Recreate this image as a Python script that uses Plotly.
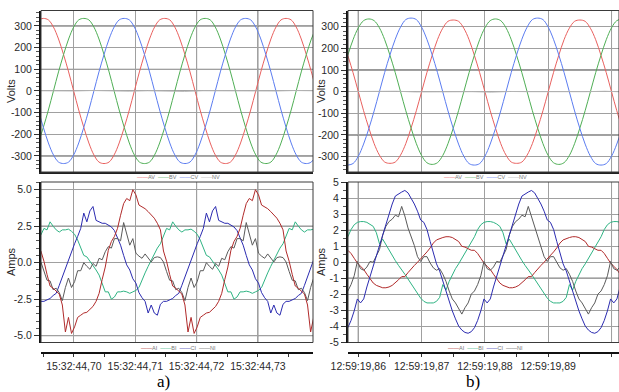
import plotly.graph_objects as go

# ---------------- data ----------------
# time axis (ms after the first labelled tick)
TICKPOS_A = [0, 10, 20, 30]
TICKS_A = ["15:32:44,70", "15:32:44,71", "15:32:44,72", "15:32:44,73"]
TICKPOS_B = [0, 10, 20, 30, 40]
TICKS_B = ["12:59:19,86", "12:59:19,87", "12:59:19,88", "12:59:19,89", ""]

VOLT_TICKS = [-300, -200, -100, 0, 100, 200, 300]
VOLT_LABELS = ["-300", "-200", "-100", "0", "100", "200", "300"]
AMP_A_TICKS = [-5, -2.5, 0, 2.5, 5]
AMP_A_LABELS = ["-5.0", "-2.5", "0.0", "2.5", "5.0"]
AMP_B_TICKS = [-5, -4, -3, -2, -1, 0, 1, 2, 3, 4, 5]
AMP_B_LABELS = ["-5", "-4", "-3", "-2", "-1", "0", "1", "2", "3", "4", "5"]

# sample start / spacing (ms)
VA_T0, VA_DT = -5.825, 0.825
VB_T0, VB_DT = -1.667, 0.8333
VN_T0, VN_DT = -6.0, 3.0
IA_T0, IA_DT = -5.4, 0.5
IB_T0, IB_DT = -1.65, 0.5

# voltages a)
AV_A = [328, 335, 328, 295, 240, 168, 88, 0, -88, -168, -240, -295, -328, -335, -328, -295, -240, -168, -88, 0, 88, 168, 240, 295,
        328, 335, 328, 295, 240, 168, 88, 0, -88, -168, -240, -295, -328, -335, -328, -295, -240, -168, -88, 0, 88, 168, 240, 295,
        328, 335, 328, 295, 240, 168, 88, 0]
BV_A = [-240, -168, -88, 0, 88, 168, 240, 295, 328, 335, 328, 295, 240, 168, 88, 0, -88, -168, -240, -295, -328, -335, -328, -295,
        -240, -168, -88, 0, 88, 168, 240, 295, 328, 335, 328, 295, 240, 168, 88, 0, -88, -168, -240, -295, -328, -335, -328, -295,
        -240, -168, -88, 0, 88, 168, 240, 295]
CV_A = [-88, -168, -240, -295, -328, -335, -328, -295, -240, -168, -88, 0, 88, 168, 240, 295, 328, 335, 328, 295, 240, 168, 88, 0,
        -88, -168, -240, -295, -328, -335, -328, -295, -240, -168, -88, 0, 88, 168, 240, 295, 328, 335, 328, 295, 240, 168, 88, 0,
        -88, -168, -240, -295, -328, -335, -328, -295]
NV_A = [1, -1, 0, 2, 0, -1, 1, 0, -2, 1, 0, 1, -1, 0, 2, -1, 0]

# voltages b)
AV_B = [168, 88, 0, -88, -168, -240, -293, -325, -331, -325, -293, -240, -168, -88, 0, 88, 168, 240, 293, 325, 331, 325, 293, 240,
        168, 88, 0, -88, -168, -240, -293, -325, -331, -325, -293, -240, -168, -88, 0, 88, 168, 240, 293, 325, 331, 325, 293, 240,
        168, 88, 0, -88, -168]
BV_B = [168, 240, 295, 328, 336, 328, 295, 240, 168, 88, 0, -88, -168, -240, -295, -328, -336, -328, -295, -240, -168, -88, 0, 88,
        168, 240, 295, 328, 336, 328, 295, 240, 168, 88, 0, -88, -168, -240, -295, -328, -336, -328, -295, -240, -168, -88, 0, 88,
        168, 240, 295, 328, 336]
CV_B = [-339, -332, -298, -242, -170, -89, 0, 89, 170, 242, 298, 333, 340, 333, 298, 242, 170, 89, 0, -89, -170, -242, -298, -332,
        -339, -332, -298, -242, -170, -89, 0, 89, 170, 242, 298, 333, 340, 333, 298, 242, 170, 89, 0, -89, -170, -242, -298, -332,
        -339, -332, -298, -242, -170]
NV_B = [0, 1, -1, 0, 2, -1, 0, 1, 0, -2, 1, 0, -1, 1, 0, 2, -1]

# currents a)
AI_A = [0.8, 0.1, -0.8, -1.6, -1.75, -1.95, -2.15, -2.9, -4.75, -3.75, -4.85, -4.4, -3.75, -3.6, -3.45, -3.4, -3.2, -3.0, -2.65, -2.1,
        -1.15, -0.3, 0.85, 1.45, 1.8, 2.35, 3.25, 4.05, 4.4, 4.25, 5.0, 4.65, 3.95, 3.85, 3.7, 3.5, 3.25, 3.05, 2.7, 2.25,
        0.8, 0.1, -0.8, -1.6, -1.75, -1.95, -2.15, -2.9, -4.75, -3.75, -4.85, -4.4, -3.75, -3.6, -3.45, -3.4, -3.2, -3.0, -2.65, -2.1,
        -1.15, -0.3, 0.85, 1.45, 1.8, 2.35, 3.25, 4.05, 4.4, 4.25, 5.0, 4.65, 3.95, 3.85, 3.7, 3.5, 3.25, 3.05, 2.7, 2.25,
        0.8, 0.1, -0.8, -1.6, -1.75, -1.95, -2.15, -2.9, -4.75, -3.75]
BI_A = [1.9, 2.35, 2.25, 2.8, 2.5, 2.25, 2.1, 2.25, 2.25, 2.3, 2.15, 1.95, 1.55, 1.0, 0.5, 0.4, 0.1, -0.15, -0.5, -0.85,
        -1.4, -2.0, -2.0, -2.5, -2.35, -2.0, -2.0, -1.95, -2.0, -2.1, -2.0, -1.9, -1.7, -1.15, -0.7, -0.25, 0.2, 0.6, 1.0, 1.3,
        1.9, 2.35, 2.25, 2.8, 2.5, 2.25, 2.1, 2.25, 2.25, 2.3, 2.15, 1.95, 1.55, 1.0, 0.5, 0.4, 0.1, -0.15, -0.5, -0.85,
        -1.4, -2.0, -2.0, -2.5, -2.35, -2.0, -2.0, -1.95, -2.0, -2.1, -2.0, -1.9, -1.7, -1.15, -0.7, -0.25, 0.2, 0.6, 1.0, 1.3,
        1.9, 2.35, 2.25, 2.8, 2.5, 2.25, 2.1, 2.25, 2.25, 2.3]
CI_A = [-2.65, -2.65, -2.55, -2.45, -2.25, -2.1, -1.55, -0.95, -0.45, 0.2, 0.8, 1.3, 1.8, 2.35, 3.4, 2.8, 3.55, 3.85, 2.9, 2.8,
        2.7, 2.7, 2.6, 2.45, 2.2, 1.75, 1.2, 0.5, -0.15, -0.5, -1.1, -1.4, -2.05, -2.4, -2.65, -3.45, -2.9, -3.45, -3.6, -2.85,
        -2.65, -2.65, -2.55, -2.45, -2.25, -2.1, -1.55, -0.95, -0.45, 0.2, 0.8, 1.3, 1.8, 2.35, 3.4, 2.8, 3.55, 3.85, 2.9, 2.8,
        2.7, 2.7, 2.6, 2.45, 2.2, 1.75, 1.2, 0.5, -0.15, -0.5, -1.1, -1.4, -2.05, -2.4, -2.65, -3.45, -2.9, -3.45, -3.6, -2.85,
        -2.65, -2.65, -2.55, -2.45, -2.25, -2.1, -1.55, -0.95, -0.45, 0.2]
NI_A = [0.05, -0.6, -1.2, -1.25, -1.85, -1.75, -2.05, -2.6, -1.7, -1.05, -1.7, -1.3, -0.55, -0.55, 0.0, -0.25, -0.45, -0.05, -0.25, 0.3,
        0.2, 0.75, 1.1, 1.0, 1.65, 1.65, 1.5, 2.75, 2.0, 1.2, 1.65, 0.65, 0.45, 0.3, 0.6, 0.3, 0.05, 0.35, 0.4, 0.35,
        0.05, -0.6, -1.2, -1.25, -1.85, -1.75, -2.05, -2.6, -1.7, -1.05, -1.7, -1.3, -0.55, -0.55, 0.0, -0.25, -0.45, -0.05, -0.25, 0.3,
        0.2, 0.75, 1.1, 1.0, 1.65, 1.65, 1.5, 2.75, 2.0, 1.2, 1.65, 0.65, 0.45, 0.3, 0.6, 0.3, 0.05, 0.35, 0.4, 0.35,
        0.05, -0.6, -1.2, -1.25, -1.85, -1.75, -2.05, -2.6, -1.7, -1.05]

# currents b)
AI_B = [0.75, 0.55, 0.25, -0.05, -0.25, -0.45, -0.75, -1.05, -1.3, -1.45, -1.55, -1.6, -1.6, -1.55, -1.45, -1.3, -1.1, -0.9, -0.9, -0.65,
        -0.4, -0.2, 0.0, 0.2, 0.45, 0.65, 0.9, 1.2, 1.4, 1.5, 1.55, 1.6, 1.6, 1.55, 1.45, 1.3, 1.0, 0.95, 0.85, 0.75,
        0.75, 0.55, 0.25, -0.05, -0.25, -0.45, -0.75, -1.05, -1.3, -1.45, -1.55, -1.6, -1.6, -1.55, -1.45, -1.3, -1.1, -0.9, -0.9, -0.65,
        -0.4, -0.2, 0.0, 0.2, 0.45, 0.65, 0.9, 1.2, 1.4, 1.5, 1.55, 1.6, 1.6, 1.55, 1.45, 1.3, 1.0, 0.95, 0.85, 0.75,
        0.75, 0.55, 0.25, -0.05, -0.25, -0.45, -0.75]
BI_B = [1.6, 2.05, 2.35, 2.5, 2.55, 2.55, 2.5, 2.4, 2.25, 1.85, 1.15, 1.45, 1.1, 0.75, 0.4, 0.1, -0.2, -0.45, -0.75, -1.05,
        -1.35, -1.65, -2.0, -2.25, -2.45, -2.55, -2.55, -2.55, -2.45, -2.2, -1.4, -1.75, -1.2, -0.75, -0.4, -0.1, 0.25, 0.6, 0.9, 1.25,
        1.6, 2.05, 2.35, 2.5, 2.55, 2.55, 2.5, 2.4, 2.25, 1.85, 1.15, 1.45, 1.1, 0.75, 0.4, 0.1, -0.2, -0.45, -0.75, -1.05,
        -1.35, -1.65, -2.0, -2.25, -2.45, -2.55, -2.55, -2.55, -2.45, -2.2, -1.4, -1.75, -1.2, -0.75, -0.4, -0.1, 0.25, 0.6, 0.9, 1.25,
        1.6, 2.05, 2.35, 2.5, 2.55, 2.55, 2.5]
CI_B = [-4.1, -3.65, -3.05, -2.3, -2.55, -2.3, -1.55, -0.9, -0.35, 0.35, 1.0, 1.6, 2.35, 3.05, 3.65, 4.15, 4.3, 4.4, 4.5, 4.35,
        4.0, 3.65, 3.2, 2.65, 2.5, 2.05, 1.3, 0.6, -0.1, -0.55, -1.2, -1.8, -2.45, -3.05, -3.55, -4.0, -4.25, -4.4, -4.45, -4.35,
        -4.1, -3.65, -3.05, -2.3, -2.55, -2.3, -1.55, -0.9, -0.35, 0.35, 1.0, 1.6, 2.35, 3.05, 3.65, 4.15, 4.3, 4.4, 4.5, 4.35,
        4.0, 3.65, 3.2, 2.65, 2.5, 2.05, 1.3, 0.6, -0.1, -0.55, -1.2, -1.8, -2.45, -3.05, -3.55, -4.0, -4.25, -4.4, -4.45, -4.35,
        -4.1, -3.65, -3.05, -2.3, -2.55, -2.3, -1.55]
NI_B = [-1.8, -1.4, -0.85, 0.05, -0.4, -0.5, -0.3, 0.05, 0.0, 0.4, 0.8, 1.7, 2.25, 2.55, 2.7, 2.95, 2.85, 3.5, 2.9, 2.15,
        1.6, 1.05, 0.35, 0.05, 0.35, 0.35, -0.05, -0.35, -0.5, -0.4, -0.75, -1.2, -1.8, -2.3, -2.55, -2.9, -3.25, -2.85, -2.55, -2.0,
        -1.8, -1.4, -0.85, 0.05, -0.4, -0.5, -0.3, 0.05, 0.0, 0.4, 0.8, 1.7, 2.25, 2.55, 2.7, 2.95, 2.85, 3.5, 2.9, 2.15,
        1.6, 1.05, 0.35, 0.05, 0.35, 0.35, -0.05, -0.35, -0.5, -0.4, -0.75, -1.2, -1.8, -2.3, -2.55, -2.9, -3.25, -2.85, -2.55, -2.0,
        -1.8, -1.4, -0.85, 0.05, -0.4, -0.5, -0.3]

V_NAMES = ["AV", "BV", "CV", "NV"]
I_NAMES = ["AI", "BI", "CI", "NI"]

# ---------------- styling ----------------
W, H = 619, 392
V_COLORS = ["#e8605e", "#4fae55", "#5b7cf0", "#b4b4b4"]
I_COLORS = ["#b02a2a", "#2fb383", "#2b2bb0", "#5a5a5a"]
FONT = "Liberation Sans, Arial, sans-serif"
GRID = "#a0a0a0"


def px(x):
    return x / W


def py(y):
    return 1 - y / H


XL = [px(41), px(313)]
XR = [px(348), 1.0]
YT = [py(172), py(10.5)]
YB = [py(342.5), py(182)]

fig = go.Figure()


def add(x0, dx, y, color, xa, ya, name, shape="linear"):
    fig.add_trace(go.Scatter(
        x0=x0, dx=dx, y=y, mode="lines", name=name,
        line=dict(color=color, width=1, shape=shape),
        xaxis=xa, yaxis=ya, showlegend=False, hoverinfo="skip"))


for ys, c, n in zip([AV_A, BV_A, CV_A], V_COLORS, V_NAMES):
    add(VA_T0, VA_DT, ys, c, "x", "y", n, "spline")
add(VN_T0, VN_DT, NV_A, V_COLORS[3], "x", "y", V_NAMES[3])
for ys, c, n in zip([AV_B, BV_B, CV_B], V_COLORS, V_NAMES):
    add(VB_T0, VB_DT, ys, c, "x2", "y2", n, "spline")
add(VN_T0, VN_DT, NV_B, V_COLORS[3], "x2", "y2", V_NAMES[3])
for ys, c, n in zip([BI_A, CI_A, NI_A, AI_A], [I_COLORS[1], I_COLORS[2], I_COLORS[3], I_COLORS[0]],
                    [I_NAMES[1], I_NAMES[2], I_NAMES[3], I_NAMES[0]]):
    add(IA_T0, IA_DT, ys, c, "x3", "y3", n)
for ys, c, n in zip([BI_B, AI_B, NI_B, CI_B], [I_COLORS[1], I_COLORS[0], I_COLORS[3], I_COLORS[2]],
                    [I_NAMES[1], I_NAMES[0], I_NAMES[3], I_NAMES[2]]):
    add(IB_T0, IB_DT, ys, c, "x4", "y4", n)

tickfont = dict(family=FONT, size=10.5, color="#2a2a2a")


def yaxis(domain, anchor, rng, tv, tt, minor_dt):
    return dict(domain=domain, anchor=anchor, range=rng, tickmode="array", tickvals=tv, ticktext=tt,
                automargin=False,
                showline=True, linecolor="#111", linewidth=2, ticks="outside", ticklen=5,
                tickcolor="#333", tickwidth=1, showgrid=True, gridcolor=GRID, gridwidth=1,
                zeroline=False, tickfont=tickfont,
                minor=dict(tickmode="linear", tick0=0, dtick=minor_dt, ticks="outside",
                           ticklen=3, tickcolor="#555", showgrid=False))


def xtop(domain, anchor, rng, tv):
    return dict(domain=domain, anchor=anchor, range=rng, tickmode="array", tickvals=tv,
                automargin=False,
                showticklabels=False, ticks="", showline=True, linecolor="#222", linewidth=2,
                showgrid=True, gridcolor=GRID, gridwidth=1, zeroline=False)


def xbottom(domain, rng, tv, tt):
    return dict(domain=domain, anchor="free", position=py(353), range=rng, tickmode="array",
                automargin=False,
                tickvals=tv, ticktext=tt, showline=True, linecolor="#111", linewidth=2,
                ticks="outside", ticklen=3, tickcolor="#333", showgrid=True, gridcolor=GRID,
                gridwidth=1, zeroline=False, tickfont=dict(family=FONT, size=10.5, color="#2a2a2a"),
                minor=dict(tickmode="linear", tick0=-5, dtick=5, ticks="outside", ticklen=3,
                           tickcolor="#333", showgrid=False))


RANGE_XA = [-5.38, 38.99]
RANGE_XB = [-1.63, 41.18]

layout = dict(
    width=W, height=H, autosize=False,
    margin=dict(l=0, r=0, t=0, b=0, pad=0, autoexpand=False),
    paper_bgcolor="white", plot_bgcolor="white",
    showlegend=False, hovermode=False,
    xaxis=xtop(XL, "y", RANGE_XA, TICKPOS_A),
    xaxis2=xtop(XR, "y2", RANGE_XB, TICKPOS_B),
    xaxis3=xbottom(XL, RANGE_XA, TICKPOS_A, TICKS_A),
    xaxis4=xbottom(XR, RANGE_XB, TICKPOS_B, TICKS_B),
    yaxis=yaxis(YT, "x", [-374, 371.5], VOLT_TICKS, VOLT_LABELS, 20),
    yaxis2=yaxis(YT, "x2", [-371, 375], VOLT_TICKS, VOLT_LABELS, 20),
    yaxis3=yaxis(YB, "x3", [-5.47, 5.53], AMP_A_TICKS, AMP_A_LABELS, 0.5),
    yaxis4=yaxis(YB, "x4", [-5.03, 5.03], AMP_B_TICKS, AMP_B_LABELS, 0.5),
)
fig.update_layout(**layout)

# darker grid lines (the picture shows some grid lines in a darker tone)
dark_v = [("x", "y", 20, "#2a2a2a"), ("x3", "y3", 20, "#2a2a2a"),
          ("x", "y", 30, "#6a6a6a"), ("x3", "y3", 30, "#6a6a6a"),
          ("x2", "y2", 0, "#2a2a2a"), ("x4", "y4", 0, "#2a2a2a"),
          ("x2", "y2", 40, "#2a2a2a"), ("x4", "y4", 40, "#2a2a2a")]
for xa, ya, v, col in dark_v:
    fig.add_shape(type="line", xref=xa, yref=ya + " domain", x0=v, x1=v, y0=0, y1=1,
                  line=dict(color=col, width=1), layer="below")
dark_h = [("x", "y", 300, "#5a5a5a"), ("x", "y", 100, "#5a5a5a"), ("x", "y", -300, "#4a4a4a"),
          ("x2", "y2", 100, "#2a2a2a"), ("x2", "y2", -200, "#3a3a3a"),
          ("x3", "y3", 2.5, "#4a4a4a"), ("x3", "y3", -5, "#3a3a3a"),
          ("x4", "y4", 2, "#2a2a2a"), ("x4", "y4", -1, "#3a3a3a")]
for xa, ya, v, col in dark_h:
    fig.add_shape(type="line", xref=xa + " domain", yref=ya, x0=0, x1=1, y0=v, y1=v,
                  line=dict(color=col, width=1), layer="below")

# plot frames
for xa, ya in [("x", "y"), ("x2", "y2"), ("x3", "y3"), ("x4", "y4")]:
    fig.add_shape(type="rect", xref=xa + " domain", yref=ya + " domain", x0=0, x1=1, y0=0, y1=1,
                  line=dict(color="#3a3a3a", width=1), layer="above")


def legend_text(names, colors):
    parts = []
    for n, c in zip(names, colors):
        parts.append("<span style='color:%s'>\u2014\u2014</span>%s" % (c, n))
    return "  ".join(parts)


annos = []
for cx in (178, 485):
    annos.append(dict(x=px(cx), y=py(177), xref="paper", yref="paper", showarrow=False,
                      text=legend_text(V_NAMES, V_COLORS), font=dict(family=FONT, size=5.5, color="#777"),
                      xanchor="center", yanchor="middle"))
    annos.append(dict(x=px(cx), y=py(347.5), xref="paper", yref="paper", showarrow=False,
                      text=legend_text(I_NAMES, I_COLORS), font=dict(family=FONT, size=5.5, color="#777"),
                      xanchor="center", yanchor="middle"))
for cx, title_v, title_i in ((11, "Volts", "Amps"), (321, "Volts", "Amps")):
    annos.append(dict(x=px(cx), y=py(91), xref="paper", yref="paper", showarrow=False, text=title_v,
                      textangle=-90, font=dict(family=FONT, size=11, color="#2a2a2a"),
                      xanchor="center", yanchor="middle"))
    annos.append(dict(x=px(cx), y=py(262), xref="paper", yref="paper", showarrow=False, text=title_i,
                      textangle=-90, font=dict(family=FONT, size=11, color="#2a2a2a"),
                      xanchor="center", yanchor="middle"))
for cx, lab in ((163, "a)"), (473, "b)")):
    annos.append(dict(x=px(cx), y=py(381), xref="paper", yref="paper", showarrow=False, text=lab,
                      font=dict(family="Liberation Serif, Times New Roman, serif", size=17, color="#000"),
                      xanchor="center", yanchor="middle"))
fig.update_layout(annotations=annos)

fig.write_html("out.html", config={"displayModeBar": False},
               post_script="document.body.style.margin='0';document.body.style.padding='0';"
                           "document.documentElement.style.overflow='hidden';")
